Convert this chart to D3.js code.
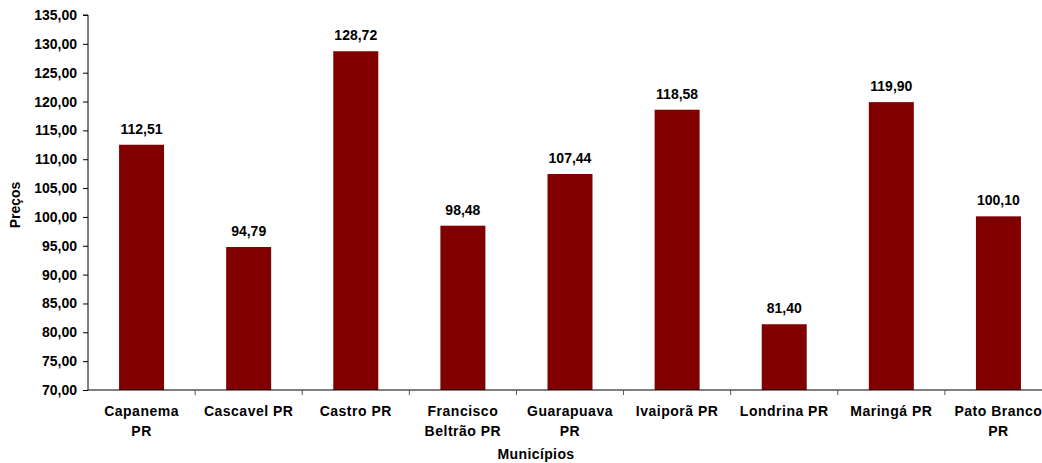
<!DOCTYPE html>
<html><head><meta charset="utf-8">
<script src="https://cdn.jsdelivr.net/npm/d3@7"></script>
<style>
body{margin:0;background:#fff;}
text{font-family:"Liberation Sans",Arial,sans-serif;font-weight:bold;fill:#000;}
</style></head>
<body><svg id="c" width="1042" height="463"></svg>
<script>
const categories = ["Capanema PR","Cascavel PR","Castro PR","Francisco Beltrão PR","Guarapuava PR","Ivaiporã PR","Londrina PR","Maringá PR","Pato Branco PR"];
const categoryLines = [["Capanema","PR"],["Cascavel PR"],["Castro PR"],["Francisco","Beltrão PR"],["Guarapuava","PR"],["Ivaiporã PR"],["Londrina PR"],["Maringá PR"],["Pato Branco","PR"]];
const values = [112.51, 94.79, 128.72, 98.48, 107.44, 118.58, 81.40, 119.90, 100.10];
const yTicks = [70,75,80,85,90,95,100,105,110,115,120,125,130,135];
const yTitle = "Preços";
const xTitle = "Municípios";

(function(){
const fmt = v => v.toFixed(2).replace(".", ",");
const svg = d3.select("#c");
const mLeft = 88, mRight = 1052, mTop = 15, mBottom = 390;

const x = d3.scaleBand().domain(categories).range([mLeft, mRight]).paddingInner(0.58).paddingOuter(0.29);
const y = d3.scaleLinear().domain([70, 135]).range([mBottom, mTop]);

svg.selectAll("rect.bar").data(values).join("rect")
  .attr("class","bar")
  .attr("x",(d,i)=>x(categories[i]))
  .attr("width",x.bandwidth())
  .attr("y",d=>y(d))
  .attr("height",d=>y(70)-y(d))
  .attr("fill","#800000");

svg.selectAll("text.val").data(values).join("text")
  .attr("class","val")
  .attr("x",(d,i)=>x(categories[i])+x.bandwidth()/2)
  .attr("y",d=>y(d)-11)
  .attr("text-anchor","middle")
  .attr("font-size","14px")
  .text(d=>fmt(d));

const yAxis = d3.axisLeft(y).tickValues(yTicks).tickSize(5).tickPadding(6).tickFormat(fmt);
const gy = svg.append("g").attr("transform",`translate(${mLeft},0)`).call(yAxis);
gy.select(".domain").attr("stroke","#000").attr("d",`M-5,${mTop}H0V${mBottom}`);
gy.selectAll(".tick line").attr("stroke","#000");
gy.selectAll(".tick text").attr("font-size","14px").attr("font-family",null).attr("fill","#000");
gy.attr("font-family",null).attr("font-size",null);

const step = x.step();
svg.append("line").attr("x1",mLeft).attr("x2",1042).attr("y1",mBottom).attr("y2",mBottom).attr("stroke","#000");
const boundaries = d3.range(1, categories.length).map(i => mLeft + i*step);
svg.selectAll("line.xt").data(boundaries).join("line")
  .attr("class","xt").attr("x1",d=>d).attr("x2",d=>d)
  .attr("y1",mBottom).attr("y2",mBottom+5).attr("stroke","#555");

const gl = svg.selectAll("text.cat").data(categoryLines).join("text")
  .attr("class","cat")
  .attr("text-anchor","middle")
  .attr("font-size","14px")
  .attr("letter-spacing","0.5px")
  .attr("x",(d,i)=>x(categories[i])+x.bandwidth()/2)
  .attr("y",416);
gl.each(function(d){
  const t = d3.select(this), cx = t.attr("x");
  t.selectAll("tspan").data(d).join("tspan")
    .attr("x",cx)
    .attr("dy",(s,j)=>j===0?0:20)
    .text(s=>s);
});

svg.append("text").attr("x",536).attr("y",459).attr("text-anchor","middle").attr("font-size","14px").attr("letter-spacing","0.4px").text(xTitle);
svg.append("text").attr("transform",`translate(20,205) rotate(-90)`).attr("text-anchor","middle").attr("font-size","14px").text(yTitle);
})();
</script></body></html>
